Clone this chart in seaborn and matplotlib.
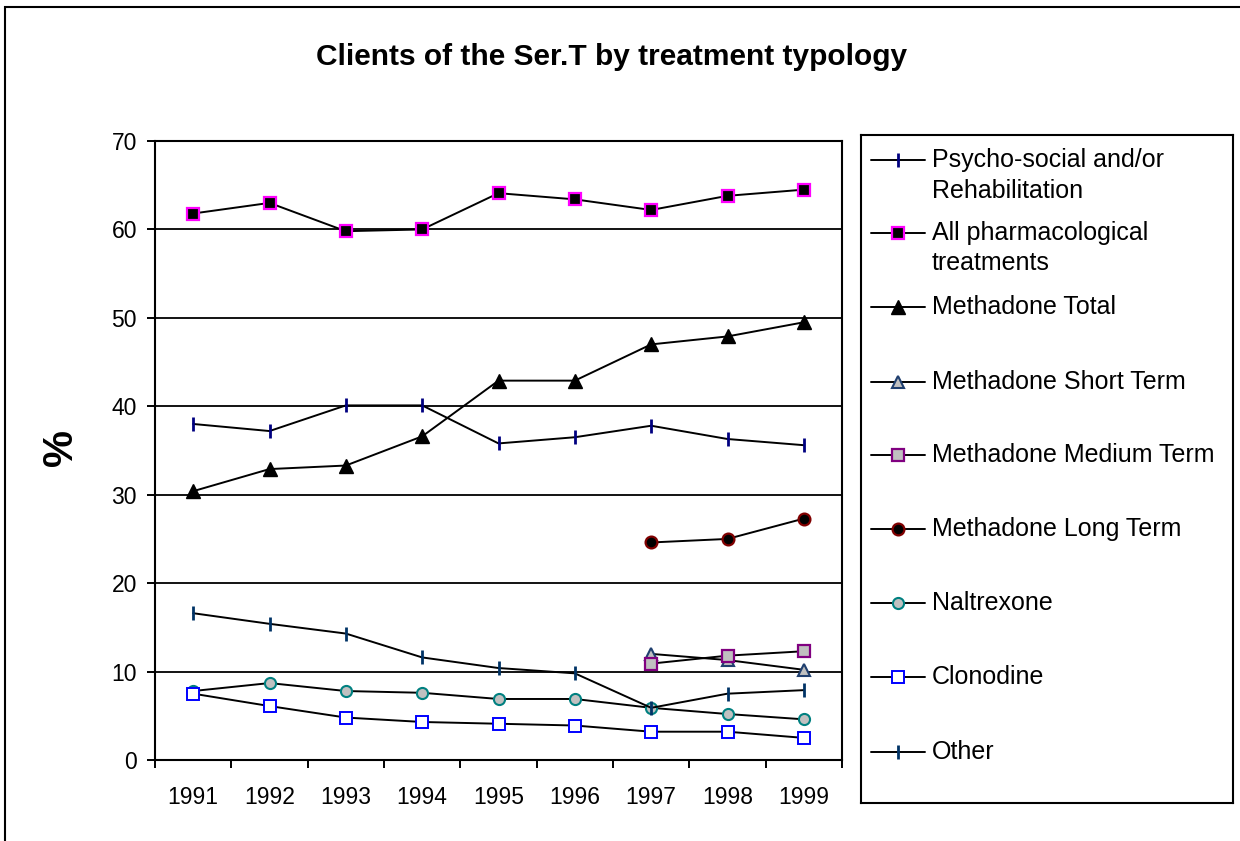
import matplotlib
matplotlib.use("Agg")
import matplotlib.pyplot as plt
from matplotlib.patches import Rectangle
from matplotlib.lines import Line2D
import seaborn as sns
import pandas as pd

# ---- data -------------------------------------------------------------
years = [1991, 1992, 1993, 1994, 1995, 1996, 1997, 1998, 1999]
years_split = [1997, 1998, 1999]

psycho_social = [38.0, 37.2, 40.1, 40.1, 35.8, 36.5, 37.8, 36.3, 35.6]
all_pharma = [61.8, 63.0, 59.8, 60.0, 64.1, 63.4, 62.2, 63.8, 64.5]
methadone_total = [30.4, 32.9, 33.3, 36.6, 42.9, 42.9, 47.0, 47.9, 49.5]
methadone_short = [12.0, 11.3, 10.2]
methadone_medium = [10.9, 11.8, 12.3]
methadone_long = [24.6, 25.0, 27.3]
naltrexone = [7.8, 8.7, 7.8, 7.6, 6.9, 6.9, 5.9, 5.2, 4.6]
clonodine = [7.5, 6.1, 4.8, 4.3, 4.1, 3.9, 3.2, 3.2, 2.5]
other = [16.6, 15.4, 14.3, 11.6, 10.4, 9.8, 5.9, 7.5, 7.9]

series_labels = [
    "Psycho-social and/or\nRehabilitation",
    "All pharmacological\ntreatments",
    "Methadone Total",
    "Methadone Short Term",
    "Methadone Medium Term",
    "Methadone Long Term",
    "Naltrexone",
    "Clonodine",
    "Other",
]
y_ticks = [0, 10, 20, 30, 40, 50, 60, 70]

title = "Clients of the Ser.T by treatment typology"
y_label = "%"

# ---- long-form table ---------------------------------------------------
series_values = [
    (years, psycho_social),
    (years, all_pharma),
    (years, methadone_total),
    (years_split, methadone_short),
    (years_split, methadone_medium),
    (years_split, methadone_long),
    (years, naltrexone),
    (years, clonodine),
    (years, other),
]
frames = []
for label, (xs, ys) in zip(series_labels, series_values):
    frames.append(pd.DataFrame({"year": xs, "value": ys, "series": label}))
df = pd.concat(frames, ignore_index=True)

# marker styling per series
styles = {
    series_labels[0]: dict(marker="|", ms=10, mew=2.0, mfc="#000080", mec="#000080"),
    series_labels[1]: dict(marker="s", ms=9, mew=1.6, mfc="black", mec="#FF00FF"),
    series_labels[2]: dict(marker="^", ms=10.5, mew=1.0, mfc="black", mec="black"),
    series_labels[3]: dict(marker="^", ms=9, mew=1.5, mfc="#C0C0C0", mec="#1F3F6F"),
    series_labels[4]: dict(marker="s", ms=9, mew=1.6, mfc="#C0C0C0", mec="#800080"),
    series_labels[5]: dict(marker="o", ms=8.5, mew=1.6, mfc="black", mec="#800000"),
    series_labels[6]: dict(marker="o", ms=8, mew=1.5, mfc="#C0C0C0", mec="#008080"),
    series_labels[7]: dict(marker="s", ms=9, mew=1.4, mfc="white", mec="#0000FF"),
    series_labels[8]: dict(marker="|", ms=10, mew=2.0, mfc="#003366", mec="#003366"),
}

# ---- figure ------------------------------------------------------------
sns.set_style("white")
plt.rcParams["font.family"] = ["Liberation Sans", "DejaVu Sans"]
plt.rcParams.update({
    "text.color": "black",
    "axes.labelcolor": "black",
    "xtick.color": "black",
    "ytick.color": "black",
})

W, H = 1240, 841
fig = plt.figure(figsize=(W / 100, H / 100), dpi=100)
fig.patch.set_facecolor("white")


def fx(px):
    return px / W


def fy(py):
    return 1 - py / H


ax = fig.add_axes([fx(155), fy(760), fx(842) - fx(155), fy(141) - fy(760)])

for label in series_labels:
    sub = df[df["series"] == label]
    st = styles[label]
    sns.lineplot(
        data=sub, x="year", y="value", ax=ax, color="black", lw=1.4,
        errorbar=None, legend=False,
        marker=st["marker"], markersize=st["ms"], markeredgewidth=st["mew"],
        markerfacecolor=st["mfc"], markeredgecolor=st["mec"],
    )

ax.set_xlim(years[0] - 0.5, years[-1] + 0.5)
ax.set_ylim(y_ticks[0], y_ticks[-1])
ax.set_yticks(y_ticks)
ax.set_xticks(years)
ax.set_xticklabels([str(y) for y in years])
ax.set_xticks([y - 0.5 for y in years] + [years[-1] + 0.5], minor=True)
ax.tick_params(axis="x", which="major", length=0, pad=19, labelsize=16.5,
               labelcolor="black")
ax.tick_params(axis="x", which="minor", length=6, width=1.4, direction="out",
               color="black", bottom=True)
ax.tick_params(axis="y", which="major", length=6, width=1.4, direction="out",
               pad=7, labelsize=16.5, color="black", labelcolor="black",
               left=True)
ax.set_xlabel("")
ax.set_ylabel("")
ax.yaxis.grid(True, color="black", lw=1.3)
ax.xaxis.grid(False)
ax.set_axisbelow(True)
for sp in ax.spines.values():
    sp.set_color("black")
    sp.set_linewidth(1.5)
    sp.set_visible(True)

# title and y label
fig.text(fx(612), fy(65), title, ha="center", va="baseline",
         fontsize=21.5, fontweight="bold", color="black")
fig.text(fx(61), fy(448), y_label, ha="center", va="center", rotation=90,
         fontsize=30, fontweight="bold", color="black")

# ---- legend box ----------------------------------------------------------
lx0, lx1, ly0, ly1 = 861, 1233, 135, 803
lax = fig.add_axes([fx(lx0), fy(ly1), fx(lx1) - fx(lx0), fy(ly0) - fy(ly1)])
lax.set_xlim(lx0, lx1)
lax.set_ylim(ly1, ly0)
lax.set_xticks([])
lax.set_yticks([])
lax.set_facecolor("white")
for sp in lax.spines.values():
    sp.set_color("black")
    sp.set_linewidth(1.5)
    sp.set_visible(True)

row_y = [160, 233, 307, 382, 455, 529, 603, 677, 752]
for label, yy in zip(series_labels, row_y):
    st = styles[label]
    lax.add_line(Line2D([871, 925], [yy, yy], color="black", lw=1.4))
    lax.add_line(Line2D([898], [yy], linestyle="none", marker=st["marker"],
                        markersize=st["ms"], markeredgewidth=st["mew"],
                        markerfacecolor=st["mfc"], markeredgecolor=st["mec"]))
    for k, line in enumerate(label.split("\n")):
        lax.text(932, yy + 30.5 * k, line, ha="left", va="center",
                 fontsize=18, color="black")

# outer chart frame
fig.patches.append(Rectangle((fx(5), -0.1), 1.2, fy(7) + 0.1,
                             transform=fig.transFigure, fill=False,
                             edgecolor="black", lw=1.5, clip_on=False))

fig.savefig("out.png", dpi=100)
